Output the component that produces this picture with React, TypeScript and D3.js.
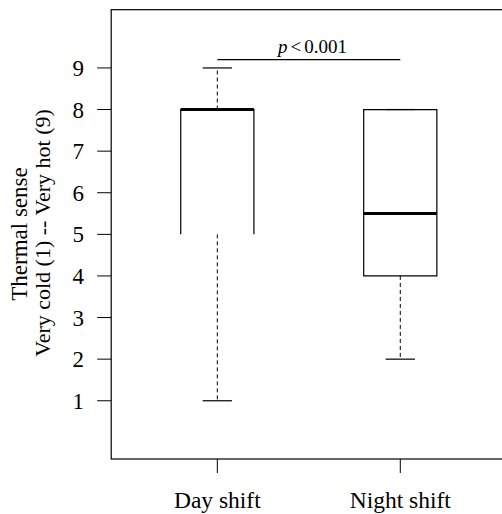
import React from 'react';
import * as d3 from 'd3';

// Thermal sense by shift, box summary
const groups = ['Day shift', 'Night shift'];
const lowWhisker = [1, 2];
const q1 = [5, 4];
const medians = [8, 5.5];
const q3 = [8, 8];
const highWhisker = [9, 8];
const lowerEdgeShown = [false, true]; // the day box has no visible bottom edge in the source
const yTicks = [1, 2, 3, 4, 5, 6, 7, 8, 9];
const yTitle = ['Thermal sense', 'Very cold (1) -- Very hot (9)'];
const pLabel = '0.001';

const W = 502;
const H = 514;
const FONT = '"Liberation Serif", "Times New Roman", serif';

const App = () => {
  // R style extents: xlim 0.5..2.5 and ylim 0..10, both padded by 4%
  const x = d3.scaleLinear().domain([0.42, 2.58]).range([111.2, 506.4]);
  const y = d3.scaleLinear().domain([-0.4, 10.4]).range([459, 9.7]);

  const boxHalf = 0.2;
  const capHalf = 0.08;

  return (
    <svg width={W} height={H} style={{ position: 'absolute', left: 0, top: 0, background: '#fff' }}>
      {/* plot frame */}
      <rect x={x(0.42)} y={y(10.4)} width={x(2.58) - x(0.42)} height={y(-0.4) - y(10.4)}
        fill="none" stroke="#000" strokeWidth={1.2} />

      {/* y axis */}
      {yTicks.map(t => (
        <g key={t}>
          <line x1={x(0.42) - 14} x2={x(0.42)} y1={y(t)} y2={y(t)} stroke="#000" strokeWidth={1} />
          <text x={84} y={y(t)} dy="0.35em" textAnchor="end" fontFamily={FONT} fontSize={23}>{t}</text>
        </g>
      ))}

      {/* x axis */}
      {groups.map((g, i) => (
        <g key={g}>
          <line x1={x(i + 1)} x2={x(i + 1)} y1={y(-0.4)} y2={y(-0.4) + 14} stroke="#000" strokeWidth={1} />
          <text x={x(i + 1)} y={508} textAnchor="middle" fontFamily={FONT} fontSize={23.5}>{g}</text>
        </g>
      ))}

      {/* y title, two lines */}
      <g transform="translate(27,234) rotate(-90)">
        <text x={0} y={0} textAnchor="middle" fontFamily={FONT} fontSize={23}>{yTitle[0]}</text>
      </g>
      <g transform="translate(50,233) rotate(-90)">
        <text x={0} y={0} textAnchor="middle" fontFamily={FONT} fontSize={22}>{yTitle[1]}</text>
      </g>

      {/* boxes */}
      {groups.map((g, i) => {
        const cx = i + 1;
        const xl = x(cx - boxHalf);
        const xr = x(cx + boxHalf);
        const yl = y(q1[i]);
        const yh = y(q3[i]);
        const outline = lowerEdgeShown[i]
          ? `M${xl},${yl}V${yh}H${xr}V${yl}Z`
          : `M${xl},${yl}V${yh}H${xr}V${yl}`;
        return (
          <g key={'box' + g}>
            <line x1={x(cx)} x2={x(cx)} y1={yl} y2={y(lowWhisker[i])}
              stroke="#000" strokeWidth={1} strokeDasharray="4,3" />
            <line x1={x(cx)} x2={x(cx)} y1={yh} y2={y(highWhisker[i])}
              stroke="#000" strokeWidth={1} strokeDasharray="4,3" />
            <line x1={x(cx - capHalf)} x2={x(cx + capHalf)} y1={y(lowWhisker[i])} y2={y(lowWhisker[i])}
              stroke="#000" strokeWidth={1.2} />
            <line x1={x(cx - capHalf)} x2={x(cx + capHalf)} y1={y(highWhisker[i])} y2={y(highWhisker[i])}
              stroke="#000" strokeWidth={1.2} />
            <path d={outline} fill="none" stroke="#000" strokeWidth={1.2} />
            <line x1={xl} x2={xr} y1={y(medians[i])} y2={y(medians[i])}
              stroke="#000" strokeWidth={3} />
          </g>
        );
      })}

      {/* significance bar */}
      <line x1={x(1)} x2={x(2)} y1={59.7} y2={59.7} stroke="#000" strokeWidth={1.2} />
      <text x={312.5} y={52.5} textAnchor="middle" fontFamily={FONT} fontSize={19}>
        <tspan fontStyle="italic">p</tspan>
        <tspan dx={3}>{'<'}</tspan>
        <tspan dx={3}>{pLabel}</tspan>
      </text>
    </svg>
  );
};

export default App;
